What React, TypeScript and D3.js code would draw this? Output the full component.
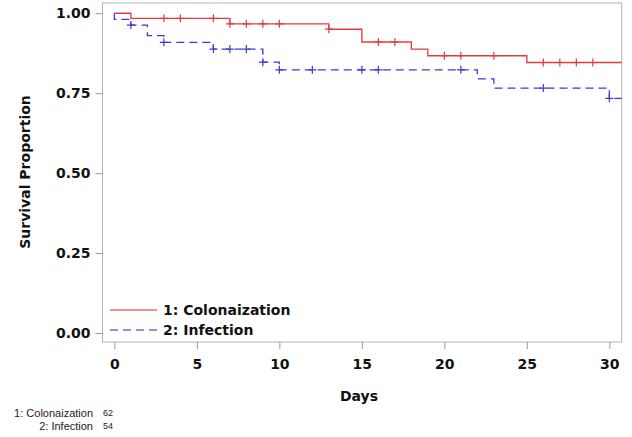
import React, { useEffect, useRef } from 'react';
import * as d3 from 'd3';

// step times and survival levels
const colonTimes = [0, 1, 7, 13, 15, 18, 19, 25];
const colonSurv = [1.0, 0.984, 0.967, 0.95, 0.91, 0.888, 0.867, 0.846];
const colonCensor = [3, 4, 6, 7, 8, 9, 10, 13, 16, 17, 20, 21, 23, 26, 27, 28, 29];

const infTimes = [0, 0, 1, 2, 3, 6, 9, 10, 22, 23, 30];
const infSurv = [1.0, 0.981, 0.963, 0.93, 0.909, 0.888, 0.847, 0.823, 0.795, 0.766, 0.734];
const infCensor = [1, 3, 6, 7, 8, 9, 10, 12, 15, 16, 21, 26, 30];

const xTicks = [0, 5, 10, 15, 20, 25, 30];
const yTicks = [0, 0.25, 0.5, 0.75, 1.0];

const groupNames = ['1: Colonaization', '2: Infection'];
const groupCounts = [62, 54];

const RED = '#e8393a';
const BLUE = '#3a3ad8';

const App = () => {
    const ref = useRef<SVGSVGElement>(null);

    useEffect(() => {
        const width = 632;
        const height = 437;
        const svg = d3.select(ref.current);
        svg.selectAll('*').remove();
        svg.attr('width', width).attr('height', height);

        const font = 'DejaVu Sans, Verdana, sans-serif';

        // scales - the frame spans a little past 0 and 30
        const x = d3.scaleLinear().domain([-0.72, 30.75]).range([102.5, 621.7]);
        const y = d3.scaleLinear().domain([-0.028, 1.032]).range([342, 3]);
        const [x0, x1] = x.range();
        const [yb, yt] = y.range();

        svg.append('rect').attr('width', width).attr('height', height).attr('fill', '#fff');

        // frame
        svg.append('rect')
            .attr('x', x0).attr('y', yt)
            .attr('width', x1 - x0).attr('height', yb - yt)
            .attr('fill', 'none').attr('stroke', '#b4b4b4').attr('stroke-width', 1);

        // x axis
        const gx = svg.append('g').attr('transform', `translate(0,${yb})`)
            .call(d3.axisBottom(x).tickValues(xTicks).tickSize(7).tickPadding(10).tickFormat(d3.format('d')));
        gx.select('.domain').remove();
        gx.selectAll('line').attr('stroke', '#9a9a9a');
        gx.selectAll('text').attr('font-family', font).attr('font-size', 14).attr('font-weight', 'bold').attr('fill', '#111');

        // y axis
        const gy = svg.append('g').attr('transform', `translate(${x0},0)`)
            .call(d3.axisLeft(y).tickValues(yTicks).tickSize(7).tickPadding(5).tickFormat(d3.format('.2f')));
        gy.select('.domain').remove();
        gy.selectAll('line').attr('stroke', '#9a9a9a');
        gy.selectAll('text').attr('font-family', font).attr('font-size', 14).attr('font-weight', 'bold').attr('fill', '#111');

        // axis labels
        svg.append('text')
            .attr('x', 359).attr('y', 401)
            .attr('text-anchor', 'middle')
            .attr('font-family', font).attr('font-size', 14).attr('font-weight', 'bold').attr('fill', '#111')
            .text('Days');
        svg.append('text')
            .attr('transform', `translate(30,172) rotate(-90)`)
            .attr('text-anchor', 'middle')
            .attr('font-family', font).attr('font-size', 14).attr('font-weight', 'bold').attr('fill', '#111')
            .text('Survival Proportion');

        const stepLine = d3.line<[number, number]>()
            .x((d) => x(d[0]))
            .y((d) => y(d[1]))
            .curve(d3.curveStepAfter);

        const levelAt = (times: number[], surv: number[], t: number) => {
            let v = surv[0];
            times.forEach((tt, i) => { if (tt <= t) v = surv[i]; });
            return v;
        };

        const series = [
            { times: colonTimes, surv: colonSurv, censor: colonCensor, color: RED, dash: null },
            { times: infTimes, surv: infSurv, censor: infCensor, color: BLUE, dash: '8,5' },
        ];

        series.forEach((s) => {
            const pts: [number, number][] = s.times.map((t, i) => [t, s.surv[i]]);
            pts.push([x.domain()[1], s.surv[s.surv.length - 1]]);
            svg.append('path')
                .attr('d', stepLine(pts))
                .attr('fill', 'none')
                .attr('stroke', s.color)
                .attr('stroke-width', 1.3)
                .attr('stroke-dasharray', s.dash);

            // censor marks (plus)
            const m = 4;
            svg.append('g').selectAll('path')
                .data(s.censor)
                .join('path')
                .attr('d', (t) => {
                    const cx = x(t);
                    const cy = y(levelAt(s.times, s.surv, t));
                    return `M${cx - m},${cy}H${cx + m}M${cx},${cy - m}V${cy + m}`;
                })
                .attr('stroke', s.color)
                .attr('stroke-width', 1.2);
        });

        // legend inside the plot
        const legend = svg.append('g');
        series.forEach((s, i) => {
            const ly = 310 + i * 20;
            legend.append('line')
                .attr('x1', 110).attr('x2', 157)
                .attr('y1', ly).attr('y2', ly)
                .attr('stroke', s.color)
                .attr('stroke-opacity', 0.75)
                .attr('stroke-width', 1.3)
                .attr('stroke-dasharray', s.dash);
            legend.append('text')
                .attr('x', 163).attr('y', ly + 5)
                .attr('font-family', font).attr('font-size', 14).attr('font-weight', 'bold').attr('fill', '#111')
                .text(groupNames[i]);
        });

        // number at risk footnote
        groupNames.forEach((name, i) => {
            const ty = 417 + i * 13;
            svg.append('text')
                .attr('x', 93).attr('y', ty)
                .attr('text-anchor', 'end')
                .attr('font-family', 'Liberation Sans, Arial, sans-serif').attr('font-size', 11).attr('fill', '#222')
                .text(name);
            svg.append('text')
                .attr('x', 103).attr('y', ty - 1)
                .attr('font-family', 'Liberation Sans, Arial, sans-serif').attr('font-size', 9).attr('fill', '#222')
                .text(groupCounts[i]);
        });
    }, []);

    return (
        <div style={{ position: 'absolute', left: 0, top: 0 }}>
            <svg ref={ref} style={{ display: 'block' }}></svg>
        </div>
    );
};

export default App;
